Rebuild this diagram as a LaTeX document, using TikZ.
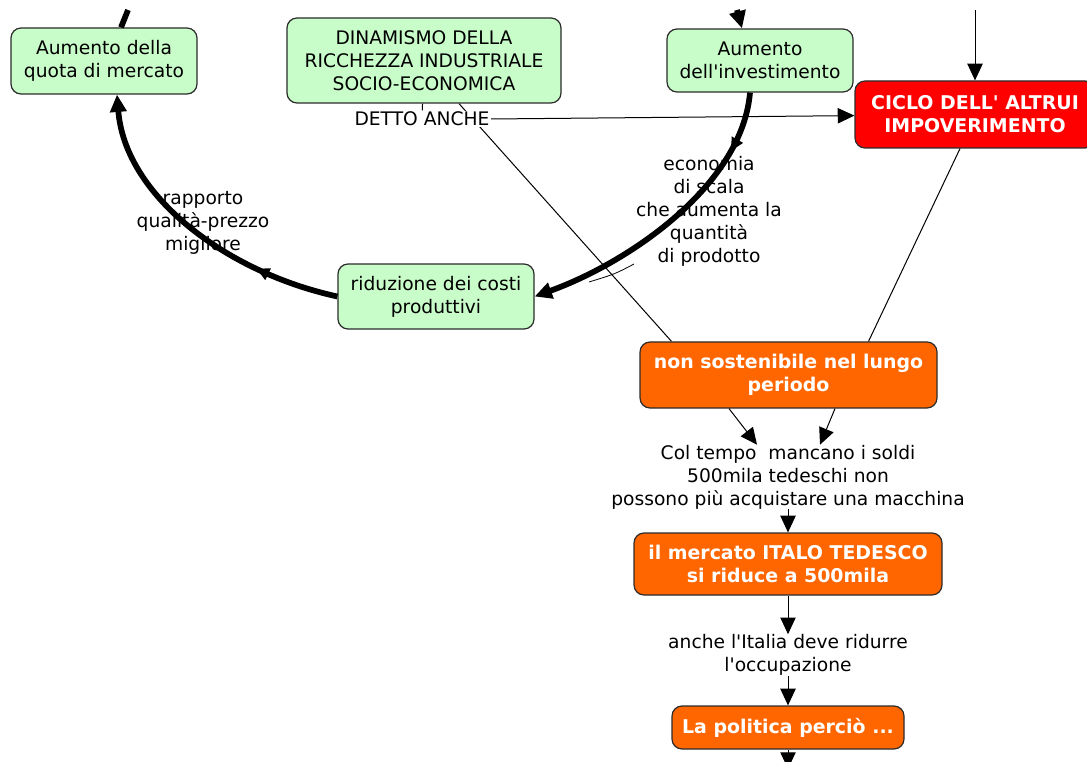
\documentclass[tikz,border=0pt]{standalone}
\usepackage{fontspec}
\newfontfamily\dv{DejaVu Sans}
\usetikzlibrary{arrows.meta,decorations.markings,calc}
\definecolor{cgreen}{HTML}{C8FCC8}
\definecolor{corange}{HTML}{FF6600}
\definecolor{cred}{HTML}{FF0000}
\definecolor{cedge}{HTML}{2B2B2B}
\pgfdeclarelayer{bg}
\pgfsetlayers{bg,main}
\begin{document}
\begin{tikzpicture}[x=0.75pt,y=-0.75pt,
  every node/.style={font=\dv\fontsize{14}{17.25}\selectfont, align=center, inner sep=0pt},
  concept/.style={draw=cedge, line width=0.9pt, rounded corners=7.5pt, fill=cgreen, text=black},
  hot/.style={concept, fill=corange, text=white, font=\dv\fontsize{14.2}{17.25}\selectfont\bfseries},
  alarm/.style={hot, fill=cred},
  linklabel/.style={fill=white, inner sep=1pt},
  thinline/.style={draw=black, line width=0.75pt},
  tip/.style={-{Triangle[length=12.5pt,width=11.5pt]}},
  heavy/.style={draw=black, line width=4.3pt},
  bigtip/.style={-{Triangle[length=13pt,width=12pt]}},
  midtip/.style={postaction={decorate, decoration={markings,
      mark=at position #1 with {\arrow{Triangle[length=10pt,width=9pt]}}}}},
]
\useasboundingbox (0,0) rectangle (1087,762);

% concepts of the growth cycle
\node[concept, minimum width=139.5pt, minimum height=49.5pt] (qm) at (104,61)
  {Aumento della\\quota di mercato};
\node[concept, minimum width=205.5pt, minimum height=63.75pt] (din) at (424,60.5)
  {DINAMISMO DELLA\\RICCHEZZA INDUSTRIALE\\SOCIO-ECONOMICA};
\node[concept, minimum width=139.5pt, minimum height=47.25pt] (inv) at (760,60.5)
  {Aumento\\dell'investimento};
\node[concept, minimum width=147pt, minimum height=48.75pt] (rid) at (436,296.5)
  {riduzione dei costi\\produttivi};

% concepts of the decline chain
\node[alarm, minimum width=180pt, minimum height=50.25pt] (ciclo) at (975,114.5)
  {CICLO DELL' ALTRUI\\IMPOVERIMENTO};
\node[hot, minimum width=222.75pt, minimum height=49.5pt] (nons) at (788.5,375)
  {non sostenibile nel lungo\\periodo};
\node[hot, minimum width=231pt, minimum height=46.5pt] (merc) at (788,564)
  {il mercato ITALO TEDESCO\\si riduce a 500mila};
\node[hot, minimum width=174pt, minimum height=32.25pt] (pol) at (788,727.5)
  {La politica perciò ...};

% linking phrases
\node[linklabel] (detto) at (422,119) {DETTO ANCHE};
\node (scala) at (709,211) {economia\\di scala\\che aumenta la\\quantità\\di prodotto};
\node (qp) at (203,223) {rapporto\\qualità-prezzo\\migliore};
\node (tempo) at (788,477) {Col tempo\ \ mancano i soldi\\500mila tedeschi non\\possono più acquistare una macchina};
\node (occ) at (788,655) {anche l'Italia deve ridurre\\l'occupazione};

% loose ends leaving the sheet
\coordinate (topC) at (975,10);
\coordinate (topQ) at (128,10);
\coordinate (topI) at (737,10);
\coordinate (down) at (788,769);

% thin connectors
\begin{pgfonlayer}{bg}
\draw[thinline] (din) -- (detto);
\draw[thinline] ($(din.south)+(35,0)$) -- ($(nons.north)+(-117,0)$);
\end{pgfonlayer}
\draw[thinline, tip] (detto.east) -- (ciclo);
\draw[thinline, tip] (topC) -- (ciclo);
\draw[thinline] ($(ciclo.south)+(-15,0)$) -- ($(nons.north)+(80,0)$);
\draw[thinline, tip] ($(nons.south)+(-59.5,0)$) -- ($(tempo.north)+(-31,0)$);
\draw[thinline, tip] ($(nons.south)+(46.5,0)$) -- ($(tempo.north)+(32,0)$);
\draw[thinline, tip] (tempo) -- (merc);
\draw[thinline, tip] (merc) -- (occ);
\draw[thinline, tip] (occ) -- (pol);
\draw[thinline, tip] (pol) -- (down);

% heavy cycle connectors
\draw[heavy] (topQ) -- ($(qm.north)+(17,0)$);
\draw[heavy, bigtip] (topI) -- ($(inv.north)+(-18,0)$);
\draw[heavy, bigtip, midtip=0.27] (rid.west) .. controls (225,272) and (125,195) .. ($(qm.south)+(13,0)$);
\draw[heavy, bigtip, midtip=0.2] ($(inv.south)+(-10,0)$) .. controls (742,185) and (630,262) .. (rid.east);
\draw[line width=0.6pt] (634,264) .. controls (615,274) .. (589,282);
\end{tikzpicture}
\end{document}
